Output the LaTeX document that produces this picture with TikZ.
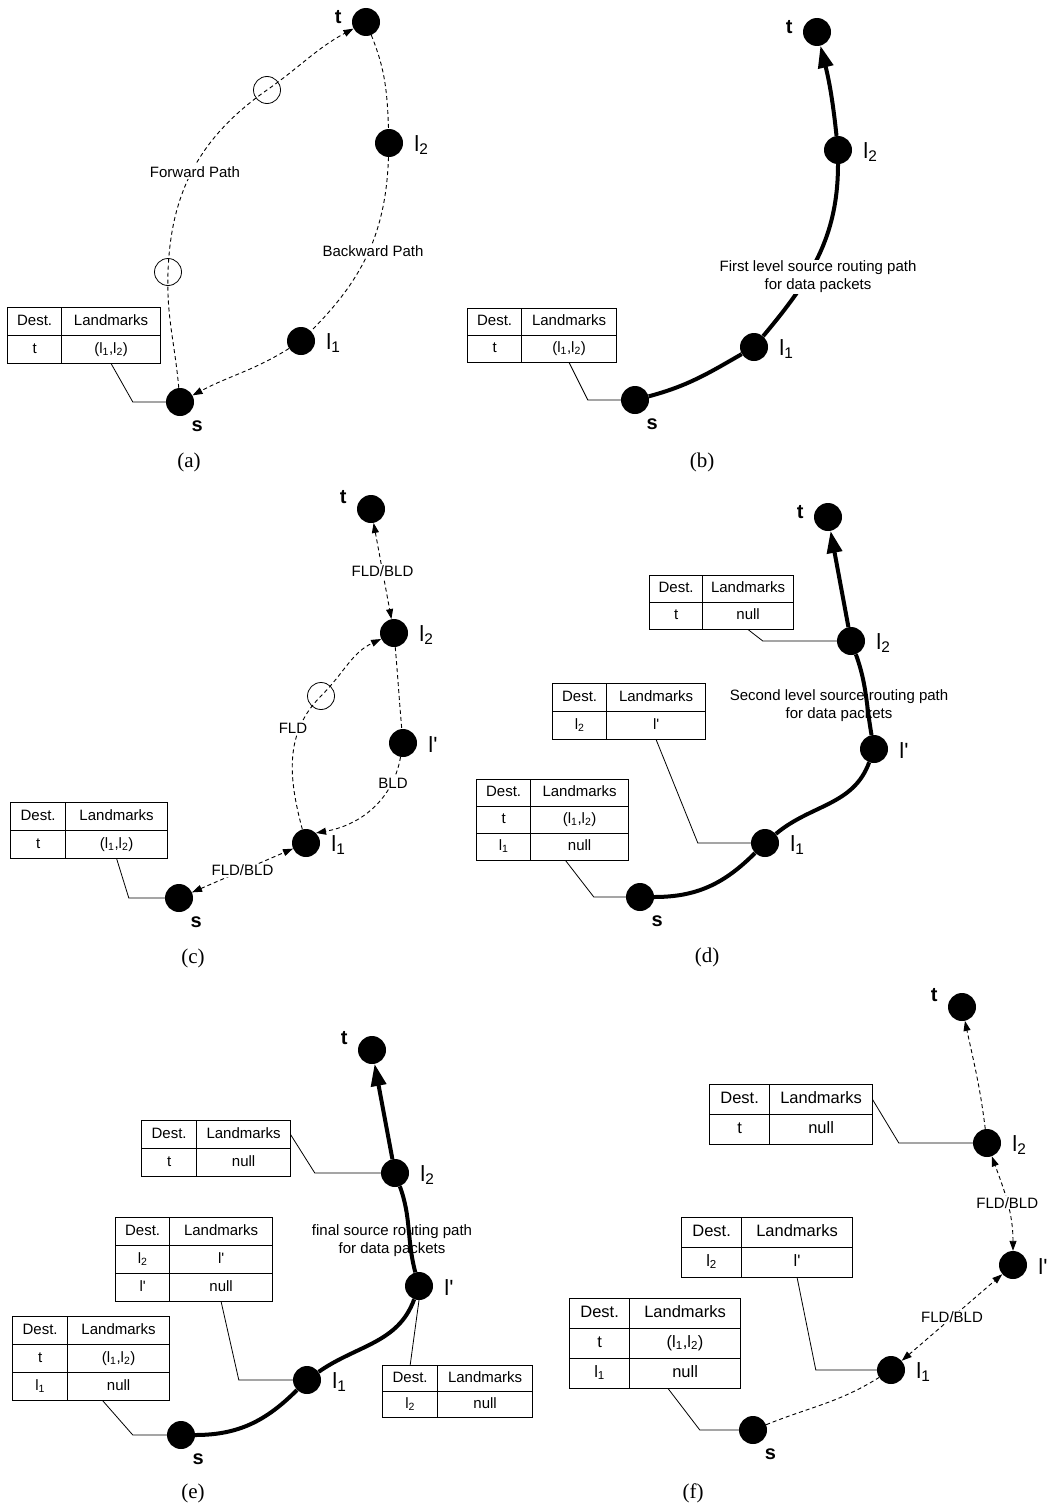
\documentclass[tikz,border=0pt]{standalone}
\usepackage{fontspec}
\setmainfont{Liberation Sans}
\newfontfamily\capfont{Liberation Serif}
\usetikzlibrary{arrows.meta,matrix}
\newcommand{\lp}{l\textquotesingle}
\newcommand{\lo}{l\textsubscript{1}}
\newcommand{\lt}{l\textsubscript{2}}
\tikzset{
  nd/.style={circle,fill=black,minimum size=28pt,inner sep=0pt},
  tlabel/.style={font=\fontsize{20}{22}\selectfont\bfseries,inner sep=0pt},
  llabel/.style={font=\fontsize{22}{24}\selectfont,inner sep=0pt},
  dst/.style={nd,label={[tlabel,shift={(-10,#1)}]left:t}},
  dst/.default=5,
  src/.style={nd,label={[tlabel,shift={(1.5,-8.5)}]below right:s}},
  lmk/.style={nd,label={[llabel,shift={(11,-2)}]right:#1}},
  relay/.style={circle,draw=black,line width=0.8pt,minimum size=27pt,inner sep=0pt},
  dsh/.style={line width=0.9pt,dash pattern=on 4pt off 3pt,
              >={Triangle[length=10pt,width=7pt]}},
  thk/.style={line width=4pt,>={Triangle[length=22pt,width=15pt]}},
  lnk/.style={line width=0.8pt},
  lbl/.style={font=\fontsize{15}{17}\selectfont,fill=white,inner sep=1pt},
  note/.style={font=\fontsize{15}{18}\selectfont,align=center,inner sep=1pt},
  capt/.style={font=\capfont\fontsize{21}{24}\selectfont},
  tbl/.style n args={3}{matrix of nodes,inner sep=0pt,outer sep=0pt,
    column sep=-1.2pt,row sep=-1.2pt,anchor=north west,
    nodes={draw,line width=1.2pt,inner sep=0pt,anchor=center,
           minimum height=#3,text height=10.5pt,text depth=3.5pt,
           font=\fontsize{15}{17}\selectfont},
    column 1/.style={nodes={minimum width=#1}},
    column 2/.style={nodes={minimum width=#2}}}
}
\begin{document}
\begin{tikzpicture}[x=1pt,y=1pt]
  \path[fill=white,use as bounding box] (0,0) rectangle (1057,-1504);

  % (a) forward and backward path
  \node[dst] (at) at (366,-22) {};
  \node[lmk=\lt] (al2) at (389,-143) {};
  \node[lmk=\lo] (al1) at (301,-341) {};
  \node[src] (as) at (180,-402) {};
  \node[relay] (ah1) at (168,-272) {};
  \node[relay] (ah2) at (267,-90) {};
  \draw[dsh,->] (as) to[out=95,in=-92] (ah1.center)
    to[out=88,in=-145] (ah2.center) to[out=35,in=-152] (at);
  \draw[dsh,->] (at) to[out=-68,in=92] (al2) to[out=-92,in=45] (al1)
    to[out=-148,in=28] (as);
  \node[lbl] (afwd) at (195,-172) {Forward Path};
  \node[lbl] (abwd) at (373,-251) {Backward Path};
  \matrix[tbl={54}{99}{28}] (ta) at (7,-307) {
    Dest. & Landmarks \\
    t & (\lo,\lt) \\
  };
  \draw[lnk] (ta-2-2.south) -- ([xshift=-33pt]as.west) -- (as);
  \node[capt] (acap) at (189,-462) {(a)};

  % (b) first level path
  \node[dst] (bt) at (817,-32) {};
  \node[lmk=\lt] (bl2) at (838,-150) {};
  \node[lmk=\lo] (bl1) at (754,-347) {};
  \node[src] (bs) at (635,-400) {};
  \draw[thk,->] (bs) to[out=15,in=-150] (bl1) to[out=50,in=-90] (bl2)
    to[out=96,in=-76] (bt);
  \node[note,fill=white] (bnote) at (818,-277)
    {First level source routing path\\for data packets};
  \matrix[tbl={54}{95}{27}] (tb) at (467,-308) {
    Dest. & Landmarks \\
    t & (\lo,\lt) \\
  };
  \draw[lnk] (tb-2-2.south) -- ([xshift=-33pt]bs.west) -- (bs);
  \node[capt] (bcap) at (702,-462) {(b)};

  % (c) FLD / BLD
  \node[dst=12] (ct) at (371,-509) {};
  \node[lmk=\lt] (cl2) at (394,-633) {};
  \node[lmk=\lp] (clp) at (403,-743) {};
  \node[lmk=\lo] (cl1) at (306,-843) {};
  \node[src] (cs) at (179,-898) {};
  \node[relay] (ch) at (321,-696) {};
  \draw[dsh,<->] (ct) -- node[lbl] (cfb1) {FLD/BLD} (cl2);
  \draw[dsh,->] (cl1) to[out=105,in=-135] (ch.center) to[out=45,in=-155] (cl2);
  \draw[dsh,->] (cl2) to[out=-85,in=95] (clp) to[out=-100,in=10] (cl1.45);
  \draw[dsh,<->] (cs) -- node[lbl] (cfb2) {FLD/BLD} (cl1);
  \node[lbl] (cfld) at (293,-728) {FLD};
  \node[lbl] (cbld) at (393,-783) {BLD};
  \matrix[tbl={55}{102}{28}] (tc) at (10,-802) {
    Dest. & Landmarks \\
    t & (\lo,\lt) \\
  };
  \draw[lnk] (tc-2-2.south) -- ([xshift=-36pt]cs.west) -- (cs);
  \node[capt] (ccap) at (193,-958) {(c)};

  % (d) second level path
  \node[dst] (dt) at (828,-517) {};
  \node[lmk=\lt] (dl2) at (851,-641) {};
  \node[lmk=\lp] (dlp) at (874,-749) {};
  \node[lmk=\lo] (dl1) at (765,-843) {};
  \node[src] (ds) at (640,-897) {};
  \node[note] (dnote) at (839,-706)
    {Second level source routing path\\for data packets};
  \draw[thk,->] (ds) to[out=0,in=-135] (dl1) to[out=40,in=-110] (dlp)
    to[out=100,in=-70] (dl2) -- (dt);
  \matrix[tbl={53}{91}{27}] (td1) at (649,-575) {
    Dest. & Landmarks \\
    t & null \\
  };
  \matrix[tbl={54}{99}{28}] (td2) at (552,-683) {
    Dest. & Landmarks \\
    \lt & \lp \\
  };
  \matrix[tbl={54}{98}{27}] (td3) at (476,-779) {
    Dest. & Landmarks \\
    t & (\lo,\lt) \\
    \lo & null \\
  };
  \draw[lnk] (td1-2-2.south) -- ([xshift=-74pt]dl2.west) -- (dl2);
  \draw[lnk] (td2-2-2.south) -- ([xshift=-53pt]dl1.west) -- (dl1);
  \draw[lnk] ([xshift=-14pt]td3-3-2.south) -- ([xshift=-32pt]ds.west) -- (ds);
  \node[capt] (dcap) at (707,-957) {(d)};

  % (e) final path
  \node[dst=12] (et) at (372,-1050) {};
  \node[lmk=\lt] (el2) at (395,-1173) {};
  \node[lmk=\lp] (elp) at (419,-1286) {};
  \node[lmk=\lo] (el1) at (307,-1380) {};
  \node[src] (es) at (181,-1435) {};
  \node[note] (enote) at (392,-1241)
    {final source routing path\\for data packets};
  \draw[thk,->] (es) to[out=0,in=-135] (el1) to[out=35,in=-110] (elp)
    to[out=105,in=-70] (el2) -- (et);
  \matrix[tbl={55}{94}{28}] (te1) at (141,-1120) {
    Dest. & Landmarks \\
    t & null \\
  };
  \matrix[tbl={54}{103}{28}] (te2) at (115,-1217) {
    Dest. & Landmarks \\
    \lt & \lp \\
    \lp & null \\
  };
  \matrix[tbl={55}{102}{28}] (te3) at (12,-1316) {
    Dest. & Landmarks \\
    t & (\lo,\lt) \\
    \lo & null \\
  };
  \matrix[tbl={55}{95}{26}] (te4) at (382,-1365) {
    Dest. & Landmarks \\
    \lt & null \\
  };
  \draw[lnk] (te1-1-2.east) -- ([xshift=-66pt]el2.west) -- (el2);
  \draw[lnk] (te2-3-2.south) -- ([xshift=-54pt]el1.west) -- (el1);
  \draw[lnk] ([xshift=-16pt]te3-3-2.south) -- ([xshift=-34pt]es.west) -- (es);
  \draw[lnk] (te4-1-1.north) -- (elp.south);
  \node[capt] (ecap) at (193,-1493) {(e)};

  % (f) FLD / BLD on the second level
  \node[dst=12] (ft) at (962,-1007) {};
  \node[lmk=\lt] (fl2) at (987,-1143) {};
  \node[lmk=\lp] (flp) at (1013,-1265) {};
  \node[lmk=\lo] (fl1) at (891,-1370) {};
  \node[src] (fs) at (753,-1430) {};
  \draw[dsh] (fs) to[out=22,in=-148] (fl1);
  \draw[dsh,<->] (fl1) -- node[lbl] (ffb1) {FLD/BLD} (flp);
  \draw[dsh,<->] (flp) to[out=90,in=-70] node[lbl] (ffb2) {FLD/BLD} (fl2);
  \draw[dsh,->] (fl2) to[out=97,in=-78] (ft);
  \matrix[tbl={60}{103}{30},nodes={font=\fontsize{16.5}{18}\selectfont}] (tf1) at (709,-1084) {
    Dest. & Landmarks \\
    t & null \\
  };
  \matrix[tbl={60}{111}{30},nodes={font=\fontsize{16.5}{18}\selectfont}] (tf2) at (681,-1217) {
    Dest. & Landmarks \\
    \lt & \lp \\
  };
  \matrix[tbl={60}{111}{30},nodes={font=\fontsize{16.5}{18}\selectfont}] (tf3) at (569,-1298) {
    Dest. & Landmarks \\
    t & (\lo,\lt) \\
    \lo & null \\
  };
  \draw[lnk] (tf1-1-2.east) -- ([xshift=-74pt]fl2.west) -- (fl2);
  \draw[lnk] (tf2-2-2.south) -- ([xshift=-61pt]fl1.west) -- (fl1);
  \draw[lnk] ([xshift=-17pt]tf3-3-2.south) -- ([xshift=-39pt]fs.west) -- (fs);
  \node[capt] (fcap) at (693,-1493) {(f)};
\end{tikzpicture}
\end{document}
